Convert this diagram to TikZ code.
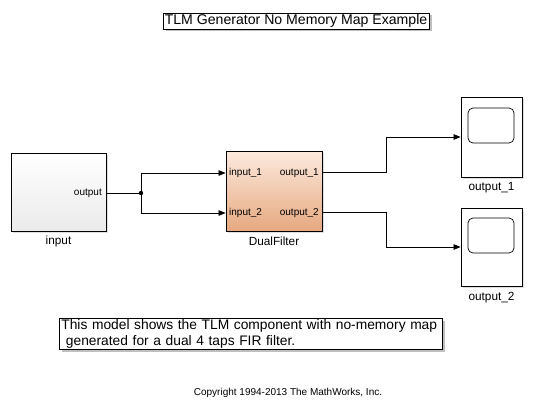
\documentclass[tikz,border=0pt]{standalone}
\usepackage{fontspec}
\setmainfont{Liberation Sans}
\usetikzlibrary{calc,arrows.meta,shadows,positioning}

\definecolor{filtertop}{RGB}{252,234,222}
\definecolor{filterbot}{RGB}{230,168,128}
\tikzset{
  block/.style={draw, line width=0.8pt, inner sep=0pt,
    drop shadow={shadow xshift=1.5pt, shadow yshift=-1.5pt, opacity=0.25, fill=gray}},
  note/.style={draw, fill=white, line width=0.7pt, inner sep=0pt,
    drop shadow={shadow xshift=2.5pt, shadow yshift=-2.5pt, opacity=0.5, fill=gray}},
  signal/.style={line width=0.7pt, -{Triangle[length=7pt,width=5.5pt]}},
  wire/.style={line width=0.7pt},
  portlabel/.style={font=\fontsize{10}{11}\selectfont, inner sep=0pt},
  blocklabel/.style={font=\fontsize{11.8}{13}\selectfont, inner sep=0pt}
}

\begin{document}
\begin{tikzpicture}[x=1pt,y=-1pt]
\useasboundingbox (0,0) rectangle (533,412);
% title
\node[note, minimum width=266, minimum height=16, font=\fontsize{14.1}{15}\selectfont](title)at(296,21){TLM Generator No Memory Map Example};
% source block
\node[block, minimum width=95, minimum height=78, top color=white, bottom color=gray!16](input)at(58.5,192){};
\node[blocklabel](inputname)at(58.5,241){input};
\node[portlabel, anchor=east](inputport)at(102,193){output};
% filter block
\node[block, minimum width=96, minimum height=80, top color=filtertop, bottom color=filterbot](filter)at(274,191){};
\node[blocklabel](filtername)at(274,241){DualFilter};
\node[portlabel, anchor=west](in1)at(229,173){input\_1};
\node[portlabel, anchor=west](in2)at(229,213){input\_2};
\node[portlabel, anchor=east](out1)at(319,173){output\_1};
\node[portlabel, anchor=east](out2)at(319,213){output\_2};
% scopes
\node[block, fill=white, minimum width=61, minimum height=80](scopeA)at(491.5,137){};
\node[draw, line width=0.7pt, rounded corners=5pt, minimum width=46, minimum height=35](screenA)at(491,125.5){};
\node[blocklabel](scopeAname)at(491.5,188){output\_1};
\node[block, fill=white, minimum width=61, minimum height=78](scopeB)at(491.5,247){};
\node[draw, line width=0.7pt, rounded corners=5pt, minimum width=46, minimum height=35](screenB)at(491,235.5){};
\node[blocklabel](scopeBname)at(491.5,298){output\_2};
% signal lines
\coordinate(src)at(input.east |- 0,193);
\coordinate(split)at(141,193);
\coordinate(upA)at(141,173);
\coordinate(upB)at(141,213);
\path[draw, wire](src)to(split);
\fill(split)circle(2.2);
\path[draw, signal](split)--(upA)--(filter.west |- upA);
\path[draw, signal](split)--(upB)--(filter.west |- upB);
\coordinate(fa)at(filter.east |- 0,172);
\coordinate(fb)at(filter.east |- 0,212);
\path[draw, signal](fa)-|(386,137)--(scopeA.west);
\path[draw, signal](fb)-|(386,247)--(scopeB.west);
% description
\node[note, anchor=north west, minimum width=383, minimum height=31, align=left, font=\fontsize{13.8}{15.5}\selectfont, text width=379, inner xsep=2pt](about)at(59,318){This model shows the TLM component with no-memory map\\\ generated for a dual 4 taps FIR filter.};
\node[font=\fontsize{10}{11}\selectfont](copy)at(288,393){Copyright 1994-2013 The MathWorks, Inc.};
\end{tikzpicture}
\end{document}
